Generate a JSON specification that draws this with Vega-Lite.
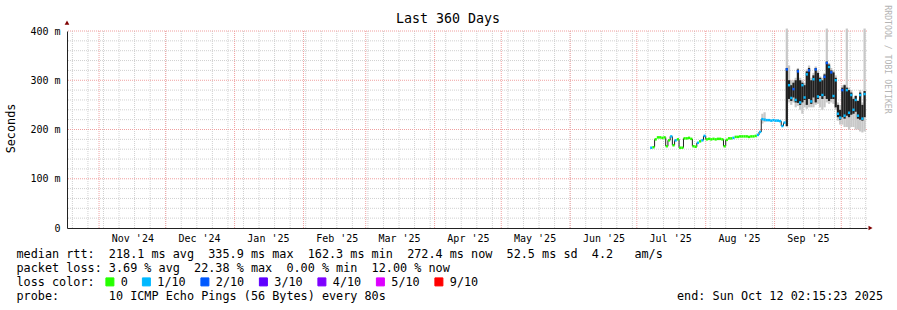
{
  "$schema": "https://vega.github.io/schema/vega-lite/v6.json",
  "width": 800,
  "height": 197,
  "autosize": {"type": "none"},
  "padding": {"left": 67, "top": 31, "right": 30, "bottom": 82},
  "background": "#ffffff",
  "title": {"text": "Last 360 Days", "font": "DejaVu Sans Mono", "fontSize": 13.3, "fontWeight": "normal", "color": "#000000", "anchor": "middle", "frame": "group", "offset": -21, "dx": -19},
  "datasets": {
    "weeks": [
      {"t": "2024-10-20T00:00"}, {"t": "2024-10-27T00:00"}, {"t": "2024-11-03T00:00"}, {"t": "2024-11-10T00:00"}, {"t": "2024-11-17T00:00"}, {"t": "2024-11-24T00:00"},
      {"t": "2024-12-01T00:00"}, {"t": "2024-12-08T00:00"}, {"t": "2024-12-15T00:00"}, {"t": "2024-12-22T00:00"}, {"t": "2024-12-29T00:00"},
      {"t": "2025-01-05T00:00"}, {"t": "2025-01-12T00:00"}, {"t": "2025-01-19T00:00"}, {"t": "2025-01-26T00:00"},
      {"t": "2025-02-02T00:00"}, {"t": "2025-02-09T00:00"}, {"t": "2025-02-16T00:00"}, {"t": "2025-02-23T00:00"},
      {"t": "2025-03-02T00:00"}, {"t": "2025-03-09T00:00"}, {"t": "2025-03-16T00:00"}, {"t": "2025-03-23T00:00"}, {"t": "2025-03-30T00:00"},
      {"t": "2025-04-06T00:00"}, {"t": "2025-04-13T00:00"}, {"t": "2025-04-20T00:00"}, {"t": "2025-04-27T00:00"},
      {"t": "2025-05-04T00:00"}, {"t": "2025-05-11T00:00"}, {"t": "2025-05-18T00:00"}, {"t": "2025-05-25T00:00"},
      {"t": "2025-06-01T00:00"}, {"t": "2025-06-08T00:00"}, {"t": "2025-06-15T00:00"}, {"t": "2025-06-22T00:00"}, {"t": "2025-06-29T00:00"},
      {"t": "2025-07-06T00:00"}, {"t": "2025-07-13T00:00"}, {"t": "2025-07-20T00:00"}, {"t": "2025-07-27T00:00"},
      {"t": "2025-08-03T00:00"}, {"t": "2025-08-10T00:00"}, {"t": "2025-08-17T00:00"}, {"t": "2025-08-24T00:00"}, {"t": "2025-08-31T00:00"},
      {"t": "2025-09-07T00:00"}, {"t": "2025-09-14T00:00"}, {"t": "2025-09-21T00:00"}, {"t": "2025-09-28T00:00"},
      {"t": "2025-10-05T00:00"}, {"t": "2025-10-12T00:00"}
    ],
    "months": [
      {"t": "2024-11-01T00:00"}, {"t": "2024-12-01T00:00"}, {"t": "2025-01-01T00:00"}, {"t": "2025-02-01T00:00"},
      {"t": "2025-03-01T00:00"}, {"t": "2025-04-01T00:00"}, {"t": "2025-05-01T00:00"}, {"t": "2025-06-01T00:00"},
      {"t": "2025-07-01T00:00"}, {"t": "2025-08-01T00:00"}, {"t": "2025-09-01T00:00"}, {"t": "2025-10-01T00:00"}
    ],
    "hminor": [
      {"v": 20}, {"v": 40}, {"v": 60}, {"v": 80}, {"v": 120}, {"v": 140}, {"v": 160}, {"v": 180},
      {"v": 220}, {"v": 240}, {"v": 260}, {"v": 280}, {"v": 320}, {"v": 340}, {"v": 360}, {"v": 380}
    ],
    "hmajor": [{"v": 100}, {"v": 200}, {"v": 300}, {"v": 400}],
    "xarrow": [{"t": "2025-10-14T04:00", "v": 0}],
    "yarrow": [{"t": "2024-10-17T14:00", "v": 417}],
    "jumps": [
      {"t": "2025-07-09T00:00", "a": 164, "b": 180},
      {"t": "2025-07-14T00:00", "a": 184, "b": 166},
      {"t": "2025-07-15T00:00", "a": 166, "b": 178},
      {"t": "2025-07-16T00:00", "a": 178, "b": 186},
      {"t": "2025-07-17T00:00", "a": 186, "b": 168},
      {"t": "2025-07-18T00:00", "a": 168, "b": 178},
      {"t": "2025-07-20T00:00", "a": 180, "b": 163},
      {"t": "2025-07-22T00:00", "a": 163, "b": 182},
      {"t": "2025-07-26T00:00", "a": 181, "b": 166},
      {"t": "2025-07-28T00:00", "a": 165, "b": 173},
      {"t": "2025-07-31T00:00", "a": 178, "b": 187},
      {"t": "2025-08-01T00:00", "a": 187, "b": 180},
      {"t": "2025-08-09T00:00", "a": 180, "b": 166},
      {"t": "2025-08-10T00:00", "a": 166, "b": 179},
      {"t": "2025-08-25T00:00", "a": 189, "b": 195},
      {"t": "2025-08-26T00:00", "a": 195, "b": 221},
      {"t": "2025-09-04T00:00", "a": 217, "b": 207},
      {"t": "2025-09-05T00:00", "a": 207, "b": 214}
    ],
    "days": [
      {"t": "2025-07-07T00:00", "t2": "2025-07-08T00:00", "med": 163, "loss": "1/10"},
      {"t": "2025-07-08T00:00", "t2": "2025-07-09T00:00", "med": 164, "loss": "0"},
      {"t": "2025-07-09T00:00", "t2": "2025-07-10T00:00", "med": 180, "loss": "0"},
      {"t": "2025-07-10T00:00", "t2": "2025-07-11T00:00", "med": 184, "loss": "0"},
      {"t": "2025-07-11T00:00", "t2": "2025-07-12T00:00", "med": 184, "loss": "0"},
      {"t": "2025-07-12T00:00", "t2": "2025-07-13T00:00", "med": 183, "loss": "0"},
      {"t": "2025-07-13T00:00", "t2": "2025-07-14T00:00", "med": 184, "loss": "0"},
      {"t": "2025-07-14T00:00", "t2": "2025-07-15T00:00", "med": 166, "loss": "0"},
      {"t": "2025-07-15T00:00", "t2": "2025-07-16T00:00", "med": 178, "loss": "0"},
      {"t": "2025-07-16T00:00", "t2": "2025-07-17T00:00", "med": 186, "loss": "1/10"},
      {"t": "2025-07-17T00:00", "t2": "2025-07-18T00:00", "med": 168, "loss": "0"},
      {"t": "2025-07-18T00:00", "t2": "2025-07-19T00:00", "med": 178, "loss": "1/10"},
      {"t": "2025-07-19T00:00", "t2": "2025-07-20T00:00", "med": 180, "loss": "0"},
      {"t": "2025-07-20T00:00", "t2": "2025-07-21T00:00", "med": 163, "loss": "0"},
      {"t": "2025-07-21T00:00", "t2": "2025-07-22T00:00", "med": 163, "loss": "0"},
      {"t": "2025-07-22T00:00", "t2": "2025-07-23T00:00", "med": 182, "loss": "0"},
      {"t": "2025-07-23T00:00", "t2": "2025-07-24T00:00", "med": 182, "loss": "0"},
      {"t": "2025-07-24T00:00", "t2": "2025-07-25T00:00", "med": 183, "loss": "0"},
      {"t": "2025-07-25T00:00", "t2": "2025-07-26T00:00", "med": 181, "loss": "0"},
      {"t": "2025-07-26T00:00", "t2": "2025-07-27T00:00", "med": 166, "loss": "0"},
      {"t": "2025-07-27T00:00", "t2": "2025-07-28T00:00", "med": 165, "loss": "0"},
      {"t": "2025-07-28T00:00", "t2": "2025-07-29T00:00", "med": 173, "loss": "1/10"},
      {"t": "2025-07-29T00:00", "t2": "2025-07-30T00:00", "med": 176, "loss": "0"},
      {"t": "2025-07-30T00:00", "t2": "2025-07-31T00:00", "med": 178, "loss": "1/10"},
      {"t": "2025-07-31T00:00", "t2": "2025-08-01T00:00", "med": 187, "loss": "1/10"},
      {"t": "2025-08-01T00:00", "t2": "2025-08-02T00:00", "med": 180, "loss": "0"},
      {"t": "2025-08-02T00:00", "t2": "2025-08-03T00:00", "med": 181, "loss": "0"},
      {"t": "2025-08-03T00:00", "t2": "2025-08-04T00:00", "med": 180, "loss": "0"},
      {"t": "2025-08-04T00:00", "t2": "2025-08-05T00:00", "med": 181, "loss": "0"},
      {"t": "2025-08-05T00:00", "t2": "2025-08-06T00:00", "med": 180, "loss": "0"},
      {"t": "2025-08-06T00:00", "t2": "2025-08-07T00:00", "med": 181, "loss": "0"},
      {"t": "2025-08-07T00:00", "t2": "2025-08-08T00:00", "med": 181, "loss": "0"},
      {"t": "2025-08-08T00:00", "t2": "2025-08-09T00:00", "med": 180, "loss": "0"},
      {"t": "2025-08-09T00:00", "t2": "2025-08-10T00:00", "med": 166, "loss": "0"},
      {"t": "2025-08-10T00:00", "t2": "2025-08-11T00:00", "med": 179, "loss": "0"},
      {"t": "2025-08-11T00:00", "t2": "2025-08-12T00:00", "med": 182, "loss": "0"},
      {"t": "2025-08-12T00:00", "t2": "2025-08-13T00:00", "med": 182, "loss": "0"},
      {"t": "2025-08-13T00:00", "t2": "2025-08-14T00:00", "med": 183, "loss": "1/10"},
      {"t": "2025-08-14T00:00", "t2": "2025-08-15T00:00", "med": 185, "loss": "0"},
      {"t": "2025-08-15T00:00", "t2": "2025-08-16T00:00", "med": 185, "loss": "0"},
      {"t": "2025-08-16T00:00", "t2": "2025-08-17T00:00", "med": 186, "loss": "0"},
      {"t": "2025-08-17T00:00", "t2": "2025-08-18T00:00", "med": 186, "loss": "0"},
      {"t": "2025-08-18T00:00", "t2": "2025-08-19T00:00", "med": 186, "loss": "0"},
      {"t": "2025-08-19T00:00", "t2": "2025-08-20T00:00", "med": 186, "loss": "0"},
      {"t": "2025-08-20T00:00", "t2": "2025-08-21T00:00", "med": 185, "loss": "0"},
      {"t": "2025-08-21T00:00", "t2": "2025-08-22T00:00", "med": 186, "loss": "0"},
      {"t": "2025-08-22T00:00", "t2": "2025-08-23T00:00", "med": 186, "loss": "0"},
      {"t": "2025-08-23T00:00", "t2": "2025-08-24T00:00", "med": 187, "loss": "0"},
      {"t": "2025-08-24T00:00", "t2": "2025-08-25T00:00", "med": 189, "loss": "1/10"},
      {"t": "2025-08-25T00:00", "t2": "2025-08-26T00:00", "med": 195, "loss": "1/10"},
      {"t": "2025-08-26T00:00", "t2": "2025-08-27T00:00", "med": 221, "loss": "1/10", "lo": 212, "hi": 232},
      {"t": "2025-08-27T00:00", "t2": "2025-08-28T00:00", "med": 220, "loss": "1/10", "lo": 215, "hi": 235},
      {"t": "2025-08-28T00:00", "t2": "2025-08-29T00:00", "med": 219, "loss": "1/10"},
      {"t": "2025-08-29T00:00", "t2": "2025-08-30T00:00", "med": 219, "loss": "1/10"},
      {"t": "2025-08-30T00:00", "t2": "2025-08-31T00:00", "med": 218, "loss": "1/10"},
      {"t": "2025-08-31T00:00", "t2": "2025-09-01T00:00", "med": 219, "loss": "1/10"},
      {"t": "2025-09-01T00:00", "t2": "2025-09-02T00:00", "med": 218, "loss": "1/10"},
      {"t": "2025-09-02T00:00", "t2": "2025-09-03T00:00", "med": 218, "loss": "1/10"},
      {"t": "2025-09-03T00:00", "t2": "2025-09-04T00:00", "med": 217, "loss": "1/10"},
      {"t": "2025-09-04T00:00", "t2": "2025-09-05T00:00", "med": 207, "loss": "1/10"},
      {"t": "2025-09-05T00:00", "t2": "2025-09-06T00:00", "med": 214, "loss": "1/10"},
      {"t": "2025-09-06T00:00", "t2": "2025-09-07T00:00", "med": 322, "loss": "2/10", "lo": 205, "hi": 405, "dlo": 207, "dhi": 325},
      {"t": "2025-09-07T00:00", "t2": "2025-09-08T00:00", "med": 290, "loss": "1/10", "lo": 255, "hi": 330, "dlo": 262, "dhi": 300},
      {"t": "2025-09-08T00:00", "t2": "2025-09-09T00:00", "med": 264, "loss": "1/10", "lo": 250, "hi": 300, "dlo": 258, "dhi": 290},
      {"t": "2025-09-09T00:00", "t2": "2025-09-10T00:00", "med": 282, "loss": "2/10", "lo": 255, "hi": 300, "dlo": 265, "dhi": 295},
      {"t": "2025-09-10T00:00", "t2": "2025-09-11T00:00", "med": 260, "loss": "1/10", "lo": 245, "hi": 305, "dlo": 255, "dhi": 300},
      {"t": "2025-09-11T00:00", "t2": "2025-09-12T00:00", "med": 318, "loss": "2/10", "lo": 248, "hi": 325, "dlo": 254, "dhi": 322},
      {"t": "2025-09-12T00:00", "t2": "2025-09-13T00:00", "med": 255, "loss": "1/10", "lo": 240, "hi": 305, "dlo": 250, "dhi": 300},
      {"t": "2025-09-13T00:00", "t2": "2025-09-14T00:00", "med": 290, "loss": "1/10", "lo": 232, "hi": 300, "dlo": 255, "dhi": 295},
      {"t": "2025-09-14T00:00", "t2": "2025-09-15T00:00", "med": 265, "loss": "1/10", "lo": 245, "hi": 295, "dlo": 260, "dhi": 290},
      {"t": "2025-09-15T00:00", "t2": "2025-09-16T00:00", "med": 312, "loss": "1/10", "lo": 242, "hi": 322, "dlo": 250, "dhi": 318},
      {"t": "2025-09-16T00:00", "t2": "2025-09-17T00:00", "med": 320, "loss": "2/10", "lo": 245, "hi": 330, "dlo": 262, "dhi": 325},
      {"t": "2025-09-17T00:00", "t2": "2025-09-18T00:00", "med": 257, "loss": "1/10", "lo": 245, "hi": 305, "dlo": 252, "dhi": 300},
      {"t": "2025-09-18T00:00", "t2": "2025-09-19T00:00", "med": 302, "loss": "1/10", "lo": 245, "hi": 315, "dlo": 265, "dhi": 310},
      {"t": "2025-09-19T00:00", "t2": "2025-09-20T00:00", "med": 322, "loss": "2/10", "lo": 250, "hi": 328, "dlo": 255, "dhi": 325},
      {"t": "2025-09-20T00:00", "t2": "2025-09-21T00:00", "med": 267, "loss": "1/10", "lo": 252, "hi": 320, "dlo": 262, "dhi": 315},
      {"t": "2025-09-21T00:00", "t2": "2025-09-22T00:00", "med": 300, "loss": "1/10", "lo": 245, "hi": 308, "dlo": 268, "dhi": 305},
      {"t": "2025-09-22T00:00", "t2": "2025-09-23T00:00", "med": 270, "loss": "1/10", "lo": 240, "hi": 305, "dlo": 262, "dhi": 300},
      {"t": "2025-09-23T00:00", "t2": "2025-09-24T00:00", "med": 307, "loss": "2/10", "lo": 245, "hi": 315, "dlo": 268, "dhi": 312},
      {"t": "2025-09-24T00:00", "t2": "2025-09-25T00:00", "med": 335, "loss": "2/10", "lo": 255, "hi": 405, "dlo": 262, "dhi": 338},
      {"t": "2025-09-25T00:00", "t2": "2025-09-26T00:00", "med": 327, "loss": "1/10", "lo": 252, "hi": 335, "dlo": 258, "dhi": 332},
      {"t": "2025-09-26T00:00", "t2": "2025-09-27T00:00", "med": 316, "loss": "2/10", "lo": 255, "hi": 325, "dlo": 262, "dhi": 320},
      {"t": "2025-09-27T00:00", "t2": "2025-09-28T00:00", "med": 268, "loss": "1/10", "lo": 252, "hi": 320, "dlo": 262, "dhi": 316},
      {"t": "2025-09-28T00:00", "t2": "2025-09-29T00:00", "med": 300, "loss": "1/10", "lo": 240, "hi": 310, "dlo": 245, "dhi": 305},
      {"t": "2025-09-29T00:00", "t2": "2025-09-30T00:00", "med": 232, "loss": "1/10", "lo": 218, "hi": 255, "dlo": 225, "dhi": 250},
      {"t": "2025-09-30T00:00", "t2": "2025-10-01T00:00", "med": 224, "loss": "1/10", "lo": 210, "hi": 250, "dlo": 220, "dhi": 240},
      {"t": "2025-10-01T00:00", "t2": "2025-10-02T00:00", "med": 280, "loss": "2/10", "lo": 210, "hi": 290, "dlo": 225, "dhi": 285},
      {"t": "2025-10-02T00:00", "t2": "2025-10-03T00:00", "med": 228, "loss": "1/10", "lo": 205, "hi": 292, "dlo": 222, "dhi": 290},
      {"t": "2025-10-03T00:00", "t2": "2025-10-04T00:00", "med": 280, "loss": "1/10", "lo": 205, "hi": 405, "dlo": 228, "dhi": 285},
      {"t": "2025-10-04T00:00", "t2": "2025-10-05T00:00", "med": 234, "loss": "1/10", "lo": 200, "hi": 285, "dlo": 225, "dhi": 280},
      {"t": "2025-10-05T00:00", "t2": "2025-10-06T00:00", "med": 270, "loss": "1/10", "lo": 205, "hi": 280, "dlo": 230, "dhi": 275},
      {"t": "2025-10-06T00:00", "t2": "2025-10-07T00:00", "med": 240, "loss": "1/10", "lo": 205, "hi": 265, "dlo": 232, "dhi": 262},
      {"t": "2025-10-07T00:00", "t2": "2025-10-08T00:00", "med": 260, "loss": "1/10", "lo": 200, "hi": 270, "dlo": 236, "dhi": 268},
      {"t": "2025-10-08T00:00", "t2": "2025-10-09T00:00", "med": 228, "loss": "1/10", "lo": 200, "hi": 260, "dlo": 222, "dhi": 258},
      {"t": "2025-10-09T00:00", "t2": "2025-10-10T00:00", "med": 270, "loss": "1/10", "lo": 196, "hi": 280, "dlo": 220, "dhi": 275},
      {"t": "2025-10-10T00:00", "t2": "2025-10-11T00:00", "med": 222, "loss": "1/10", "lo": 194, "hi": 255, "dlo": 218, "dhi": 250},
      {"t": "2025-10-11T00:00", "t2": "2025-10-12T00:00", "med": 272, "loss": "1/10", "lo": 196, "hi": 405, "dlo": 225, "dhi": 278}
    ]
  },
  "layer": [
    {
      "data": {"name": "weeks"},
      "mark": {"type": "rule", "stroke": "#d0d0d0", "strokeWidth": 1, "strokeDash": [1, 1]},
      "encoding": {
        "x": {"field": "t", "type": "temporal", "scale": {"domain": [{"year": 2024, "month": 10, "date": 17, "hours": 14}, {"year": 2025, "month": 10, "date": 12, "hours": 14}], "nice": false},
          "axis": {
            "orient": "bottom", "offset": 0,
            "labels": false, "ticks": false, "tickSize": 0, "domain": true, "domainColor": "#222222", "domainWidth": 1, "grid": false,
            "title": [
              "median rtt:\u00a0\u00a0218.1\u00a0ms\u00a0avg\u00a0\u00a0335.9\u00a0ms\u00a0max\u00a0\u00a0162.3\u00a0ms\u00a0min\u00a0\u00a0272.4\u00a0ms\u00a0now\u00a0\u00a052.5\u00a0ms\u00a0sd\u00a0\u00a04.2\u00a0\u00a0\u00a0am/s",
              "packet loss:\u00a03.69\u00a0%\u00a0avg\u00a0\u00a022.38\u00a0%\u00a0max\u00a0\u00a00.00\u00a0%\u00a0min\u00a0\u00a012.00\u00a0%\u00a0now",
              "loss color:",
              "probe:\u00a0\u00a0\u00a0\u00a0\u00a0\u00a0\u00a010\u00a0ICMP\u00a0Echo\u00a0Pings\u00a0(56\u00a0Bytes)\u00a0every\u00a080s\u00a0\u00a0\u00a0\u00a0\u00a0\u00a0\u00a0\u00a0\u00a0\u00a0\u00a0\u00a0\u00a0\u00a0\u00a0\u00a0\u00a0\u00a0\u00a0\u00a0\u00a0\u00a0\u00a0\u00a0\u00a0\u00a0\u00a0\u00a0\u00a0\u00a0\u00a0\u00a0\u00a0\u00a0\u00a0\u00a0\u00a0\u00a0\u00a0\u00a0\u00a0end:\u00a0Sun\u00a0Oct\u00a012\u00a002:15:23\u00a02025"
            ],
            "titleX": -51, "titleY": 29, "titleAnchor": "start", "titleAlign": "left", "titleBaseline": "alphabetic",
            "titleFont": "DejaVu Sans Mono", "titleFontSize": 11.8, "titleFontWeight": "normal", "titleColor": "#000000", "titleLineHeight": 14, "titleLimit": 0, "titleAngle": 0
          }
        }
      }
    },
    {
      "data": {"name": "hminor"},
      "mark": {"type": "rule", "stroke": "#d0d0d0", "strokeWidth": 1, "strokeDash": [1, 1]},
      "encoding": {
        "y": {"field": "v", "type": "quantitative", "axis": null, "scale": {"domain": [0, 400], "nice": false}}
      }
    },
    {
      "data": {"name": "months"},
      "mark": {"type": "rule", "stroke": "#f0a0a0", "strokeWidth": 1, "strokeDash": [1, 1]},
      "encoding": {
        "x": {"field": "t", "type": "temporal", "scale": {"domain": [{"year": 2024, "month": 10, "date": 17, "hours": 14}, {"year": 2025, "month": 10, "date": 12, "hours": 14}], "nice": false},
          "axis": {
            "orient": "bottom", "offset": 0,
            "values": [
              {"year": 2024, "month": 11, "date": 16}, {"year": 2024, "month": 12, "date": 16}, {"year": 2025, "month": 1, "date": 16},
              {"year": 2025, "month": 2, "date": 16}, {"year": 2025, "month": 3, "date": 16}, {"year": 2025, "month": 4, "date": 16},
              {"year": 2025, "month": 5, "date": 16}, {"year": 2025, "month": 6, "date": 16}, {"year": 2025, "month": 7, "date": 16},
              {"year": 2025, "month": 8, "date": 16}, {"year": 2025, "month": 9, "date": 16}
            ],
            "format": "%b '%y", "labelFont": "DejaVu Sans Mono", "labelFontSize": 10, "labelColor": "#000000", "labelPadding": 5,
            "ticks": false, "tickSize": 0, "domain": false, "grid": false, "title": null,
            "labelBaseline": "top", "labelAlign": "center", "labelFlush": false, "labelOverlap": false
          }
        }
      }
    },
    {
      "data": {"name": "hmajor"},
      "mark": {"type": "rule", "stroke": "#f0a0a0", "strokeWidth": 1, "strokeDash": [1, 1]},
      "encoding": {
        "y": {"field": "v", "type": "quantitative", "scale": {"domain": [0, 400], "nice": false},
          "axis": {"orient": "right", "labels": false, "ticks": false, "domain": false, "grid": false,
            "title": "RRDTOOL / TOBI OETIKER", "titleAngle": 90, "titleX": 19, "titleY": 28, "titleAlign": "center", "titleBaseline": "middle",
            "titleFont": "DejaVu Sans Mono", "titleFontSize": 8.2, "titleFontWeight": "normal", "titleColor": "#b4b4b4", "titleLimit": 0}}
      }
    },
    {
      "data": {"name": "days"},
      "mark": {"type": "rect", "fill": "#c8c8c8"},
      "encoding": {
        "x": {"field": "t", "type": "temporal", "axis": null, "scale": {"domain": [{"year": 2024, "month": 10, "date": 17, "hours": 14}, {"year": 2025, "month": 10, "date": 12, "hours": 14}], "nice": false}},
        "x2": {"field": "t2"},
        "y": {"field": "lo", "type": "quantitative", "scale": {"domain": [0, 400], "nice": false},
          "axis": {
            "orient": "left",
            "values": [0, 100, 200, 300, 400],
            "labelExpr": "datum.value == 0 ? '0\u00a0\u00a0' : datum.value + ' m'",
            "labelFont": "DejaVu Sans Mono", "labelFontSize": 10, "labelColor": "#000000", "labelPadding": 7,
            "ticks": false, "tickSize": 0, "domain": true, "domainColor": "#222222", "domainWidth": 1, "grid": false,
            "labelBaseline": "middle", "labelFlush": false, "labelOverlap": false,
            "title": "Seconds", "titleX": -57, "titleY": 97, "titleAngle": 270, "titleAlign": "center", "titleBaseline": "middle",
            "titleFont": "DejaVu Sans Mono", "titleFontSize": 11.8, "titleFontWeight": "normal", "titleColor": "#000000"
          }
        },
        "y2": {"field": "hi"}
      }
    },
    {
      "data": {"name": "days"},
      "mark": {"type": "rect", "fill": "#202020"},
      "encoding": {
        "x": {"field": "t", "type": "temporal", "axis": null, "scale": {"domain": [{"year": 2024, "month": 10, "date": 17, "hours": 14}, {"year": 2025, "month": 10, "date": 12, "hours": 14}], "nice": false}},
        "x2": {"field": "t2"},
        "y": {"field": "dlo", "type": "quantitative", "axis": null, "scale": {"domain": [0, 400], "nice": false}},
        "y2": {"field": "dhi"}
      }
    },
    {
      "data": {"name": "jumps"},
      "mark": {"type": "rule", "stroke": "#202020", "strokeWidth": 1},
      "encoding": {
        "x": {"field": "t", "type": "temporal", "axis": null, "scale": {"domain": [{"year": 2024, "month": 10, "date": 17, "hours": 14}, {"year": 2025, "month": 10, "date": 12, "hours": 14}], "nice": false}},
        "y": {"field": "a", "type": "quantitative", "axis": null, "scale": {"domain": [0, 400], "nice": false}},
        "y2": {"field": "b"}
      }
    },
    {
      "data": {"name": "days"},
      "mark": {"type": "rule", "strokeWidth": 2.5, "strokeCap": "butt"},
      "encoding": {
        "x": {"field": "t", "type": "temporal", "axis": null, "scale": {"domain": [{"year": 2024, "month": 10, "date": 17, "hours": 14}, {"year": 2025, "month": 10, "date": 12, "hours": 14}], "nice": false}},
        "x2": {"field": "t2"},
        "y": {"field": "med", "type": "quantitative", "axis": null, "scale": {"domain": [0, 400], "nice": false}},
        "color": {"field": "loss", "type": "nominal",
          "scale": {"domain": ["0", "1/10", "2/10", "3/10", "4/10", "5/10", "9/10"], "range": ["#26ff00", "#00b8ff", "#0059ff", "#5e00ff", "#7e00ff", "#dd00ff", "#ff0000"]},
          "legend": {
            "orient": "none", "legendX": 37, "legendY": 245, "direction": "horizontal", "columns": 7, "title": null,
            "symbolType": "square", "symbolSize": 64, "symbolStrokeColor": "#000000", "symbolStrokeWidth": 1, "symbolOpacity": 1,
            "labelFont": "DejaVu Sans Mono", "labelFontSize": 11.8, "labelColor": "#000000", "labelOffset": 5, "labelLimit": 0,
            "columnPadding": 11.5, "padding": 0, "gridAlign": "none",
            "encode": {"symbols": {"update": {"fill": {"scale": "color", "field": "value"}, "stroke": {"value": "#000000"}, "strokeWidth": {"value": 1}}}}
          }
        }
      }
    },
    {
      "data": {"name": "xarrow"},
      "mark": {"type": "point", "shape": "triangle-right", "filled": true, "fill": "#7f0000", "stroke": null, "size": 22, "opacity": 1, "clip": false},
      "encoding": {
        "x": {"field": "t", "type": "temporal", "axis": null, "scale": {"domain": [{"year": 2024, "month": 10, "date": 17, "hours": 14}, {"year": 2025, "month": 10, "date": 12, "hours": 14}], "nice": false}},
        "y": {"field": "v", "type": "quantitative", "axis": null, "scale": {"domain": [0, 400], "nice": false}}
      }
    },
    {
      "data": {"name": "yarrow"},
      "mark": {"type": "point", "shape": "triangle-up", "filled": true, "fill": "#7f0000", "stroke": null, "size": 22, "opacity": 1, "clip": false},
      "encoding": {
        "x": {"field": "t", "type": "temporal", "axis": null, "scale": {"domain": [{"year": 2024, "month": 10, "date": 17, "hours": 14}, {"year": 2025, "month": 10, "date": 12, "hours": 14}], "nice": false}},
        "y": {"field": "v", "type": "quantitative", "axis": null, "scale": {"domain": [0, 400], "nice": false}}
      }
    }
  ],
  "resolve": {"axis": {"x": "independent", "y": "independent"}},
  "config": {"view": {"stroke": null}}
}
